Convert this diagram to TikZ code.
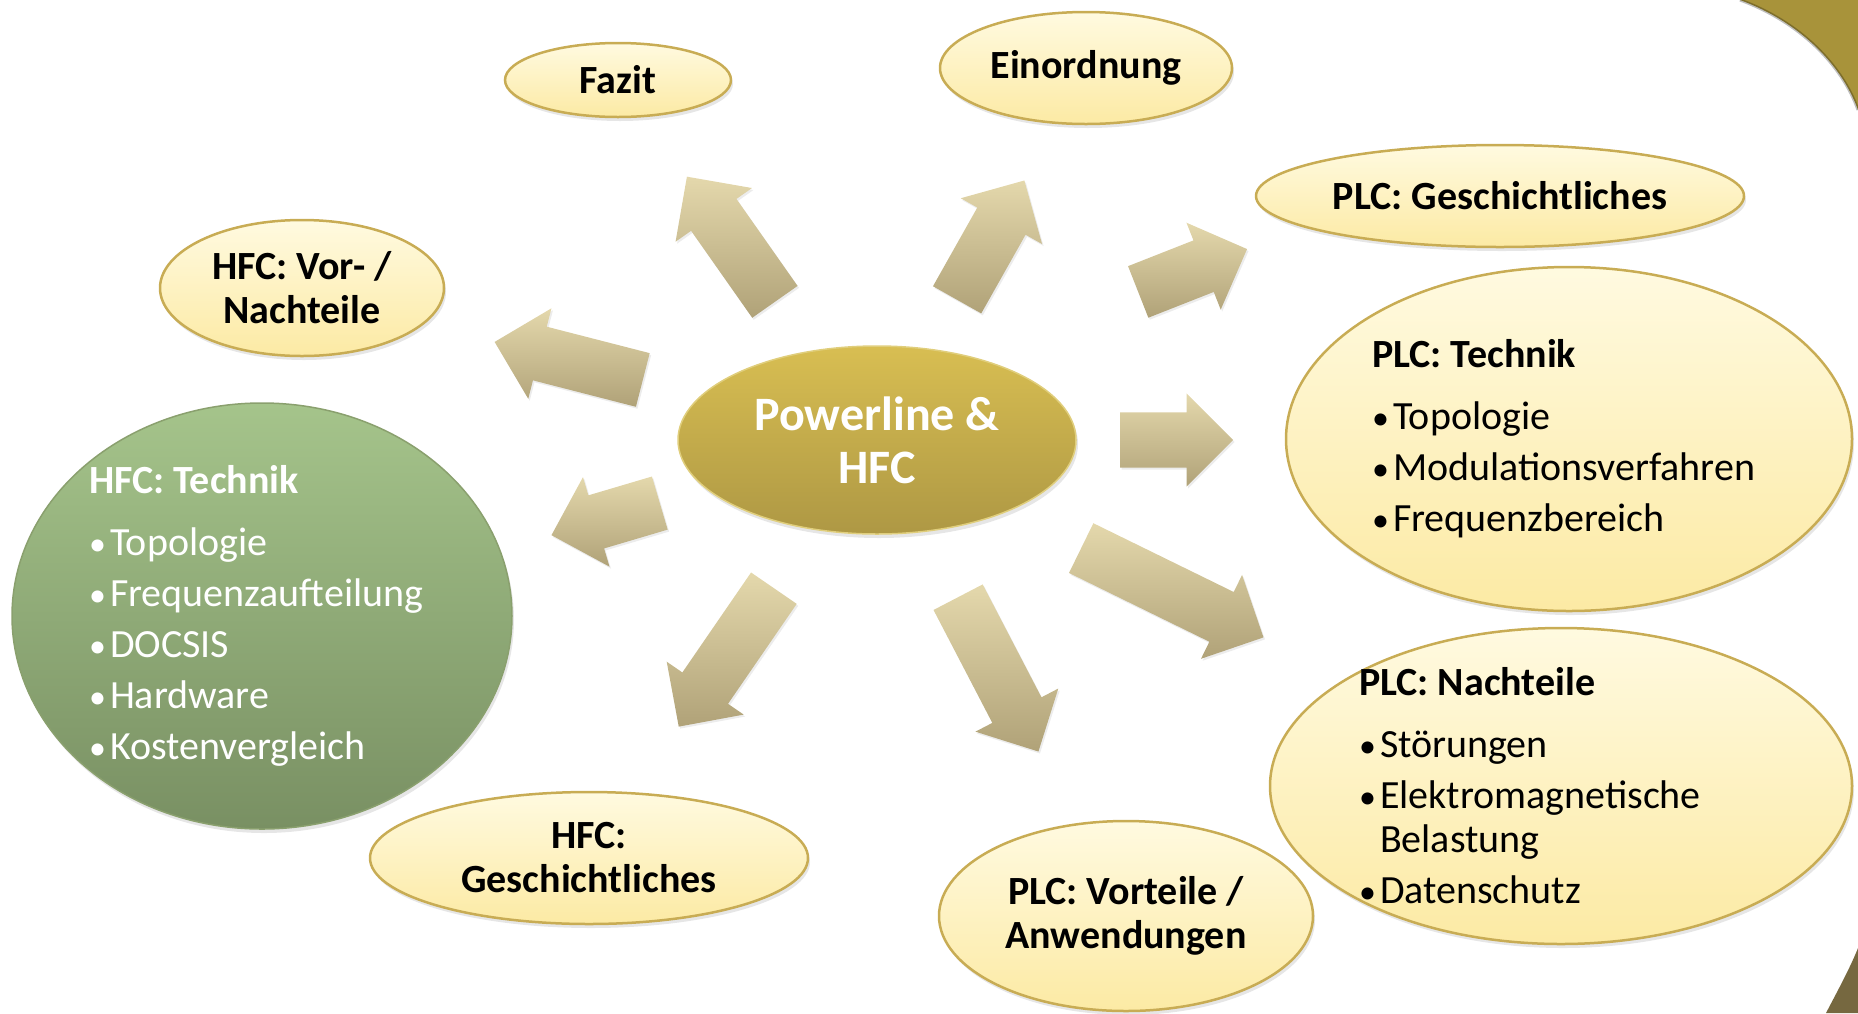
\documentclass[tikz,border=0pt]{standalone}
\usepackage{fontspec}
\setmainfont{Carlito}
\usepackage{tikz}
\usetikzlibrary{shapes.geometric}
\usetikzlibrary{shapes.arrows}
\usetikzlibrary{shadows}

\definecolor{creamtop}{RGB}{255,250,224}
\definecolor{creambot}{RGB}{252,234,164}
\definecolor{creamrand}{RGB}{200,172,84}
\definecolor{goldtop}{RGB}{216,190,82}
\definecolor{goldbot}{RGB}{174,152,68}
\definecolor{goldrand}{RGB}{224,206,124}
\definecolor{gruentop}{RGB}{165,196,139}
\definecolor{gruenbot}{RGB}{121,144,99}
\definecolor{gruenrand}{RGB}{138,160,110}
\definecolor{pfeiltop}{RGB}{228,216,172}
\definecolor{pfeilbot}{RGB}{176,162,120}
\definecolor{eckgold}{RGB}{168,147,58}
\definecolor{eckbraun}{RGB}{118,104,64}

\newcommand{\punkt}[1]{\par\spaceskip=0pt\relax\hangindent=21pt\hangafter=1\makebox[21pt][l]{\fontsize{34}{34}\selectfont\textbullet}#1}
\newcommand{\kopf}[1]{\spaceskip=0pt\relax\textbf{#1}\par\vspace{11pt}}

\tikzset{
  blase/.style={ellipse, inner sep=0pt, draw=creamrand, line width=2.5pt,
    top color=creamtop, bottom color=creambot,
    drop shadow={opacity=0.2, shadow xshift=2pt, shadow yshift=-4pt},
    font=\fontsize{40}{44}\selectfont\bfseries, align=center},
  gross/.style={blase, inner ysep=-12pt, font=\fontsize{40}{44}\selectfont, align=left,
    execute at begin node={\setlength{\parskip}{7pt}\hyphenpenalty=10000}},
  gruen/.style={draw=gruenrand, line width=1.5pt, top color=gruentop,
    bottom color=gruenbot, text=white},
  kern/.style={blase, draw=goldrand, line width=1.5pt, top color=goldtop,
    bottom color=goldbot, text=white, font=\fontsize{48}{53}\selectfont\bfseries},
  pfeil/.style={single arrow, draw=none, inner xsep=0pt, inner ysep=27.5pt,
    minimum width=93pt, single arrow head extend=19pt, anchor=tail,
    drop shadow={opacity=0.15, shadow xshift=1.5pt, shadow yshift=-2pt},
    top color=pfeiltop, bottom color=pfeilbot, rotate=#1}
}

\begin{document}
\begin{tikzpicture}[x=1pt, y=-1pt]
  \useasboundingbox
    (0,0)
    rectangle
    (1858,1013);
  \fill[eckgold]
    (1740,0)
    .. controls (1800,22) and (1842,65) ..
    (1858,110)
    -- (1858,0)
    -- cycle;
  \draw[black, opacity=0.25, line width=3pt]
    (1740,0)
    .. controls (1800,22) and (1842,65) ..
    (1858,110);
  \fill[eckbraun]
    (1826,1013)
    .. controls (1838,990) and (1850,968) ..
    (1858,948)
    -- (1858,1013)
    -- cycle;

  \node[pfeil=125.1, minimum height=153pt] (zufazit) at (775,302) {};
  \node[pfeil=60.6, minimum height=137pt] (zueinordnung) at (957,300) {};
  \node[pfeil=21.5, minimum height=117pt] (zuplcgesch) at (1138,292) {};
  \node[pfeil=0, minimum height=113pt] (zuplctechnik) at (1120,440) {};
  \node[pfeil=-26.1, minimum height=203pt] (zuplcnachteile) at (1081,548) {};
  \node[pfeil=-62.5, minimum height=174pt] (zuplcvorteile) at (958,597) {};
  \node[pfeil=-124.5, minimum height=168pt] (zuhfcgesch) at (774,588) {};
  \node[pfeil=-163.5, minimum height=113pt] (zuhfctechnik) at (660,503) {};
  \node[pfeil=165.6, minimum height=153pt] (zuhfcvor) at (643,380) {};

  \node[blase, minimum width=226pt, minimum height=74pt]
    (fazit) at (618,80) {Fazit};
  \node[blase, minimum width=292pt, minimum height=112pt]
    (einordnung) at (1086,68) {Einordnung};
  \node[blase, minimum width=488pt, minimum height=102pt]
    (plcgesch) at (1500,196) {PLC: Geschichtliches};
  \node[blase, minimum width=284pt, minimum height=136pt]
    (hfcvor) at (302,288) {HFC: Vor- /\\Nachteile};
  \node[gross, minimum width=566pt, minimum height=344pt, text width=394pt]
    (plctechnik) at (1569,439)
    {\kopf{PLC: Technik}\punkt{Topologie}\punkt{Modulationsverfahren}\punkt{Frequenzbereich}};
  \node[kern, minimum width=398pt, minimum height=188pt]
    (mitte) at (877,440) {Powerline \&\\HFC};
  \node[gross, gruen, minimum width=500pt, minimum height=426pt, text width=346pt]
    (hfctechnik) at (262,616)
    {\kopf{HFC: Technik}\punkt{Topologie}\punkt{Frequenzaufteilung}\punkt{DOCSIS}\punkt{Hardware}\punkt{Kostenvergleich}};
  \node[blase, minimum width=438pt, minimum height=132pt]
    (hfcgesch) at (589,858) {HFC:\\Geschichtliches};
  \node[blase, minimum width=374pt, minimum height=190pt]
    (plcvorteile) at (1126,916) {PLC: Vorteile /\\Anwendungen};
  \node[gross, minimum width=582pt, minimum height=316pt, text width=404pt]
    (plcnachteile) at (1561,786)
    {\kopf{PLC: Nachteile}\punkt{Störungen}\punkt{Elektromagnetische Belastung}\punkt{Datenschutz}};
\end{tikzpicture}
\end{document}
